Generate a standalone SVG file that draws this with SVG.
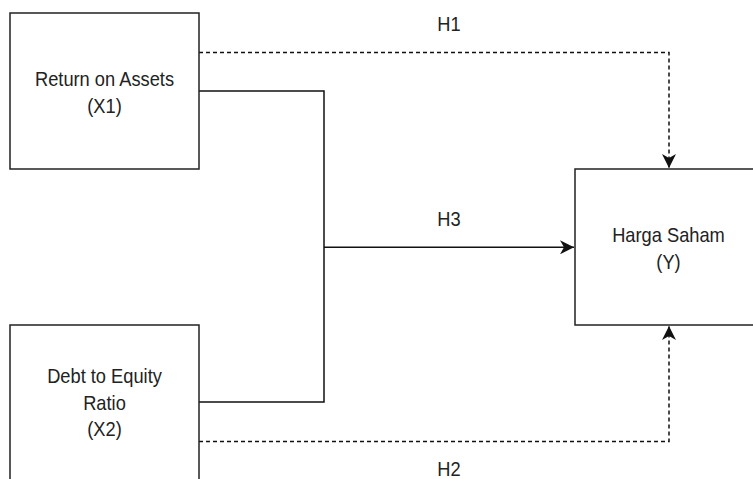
<svg xmlns="http://www.w3.org/2000/svg" width="753" height="479" viewBox="0 0 753 479">
<style>
.box{fill:#fff;stroke:#222;stroke-width:1.5}
.ln{fill:none;stroke:#111;stroke-width:1.5}
.dash{stroke-dasharray:4 3}
.t{font-family:"Liberation Sans",Arial,sans-serif;font-size:21px;fill:#222;text-anchor:middle}
</style>
<defs>
<marker id="arr" viewBox="-14 -7 15 14" refX="0" refY="0" markerWidth="15" markerHeight="14" markerUnits="userSpaceOnUse" orient="auto">
<path d="M0,0 L-14,-7 L-10,0 L-14,7 Z" fill="#111"/>
</marker>
</defs>
<rect width="753" height="479" fill="#fff"/>
<g id="connectors">
<path class="ln dash" d="M199,52.5 H669 V168" marker-end="url(#arr)"/>
<path class="ln dash" d="M199,441.5 H669 V326" marker-end="url(#arr)"/>
<path class="ln" d="M199,91 H324 V402 H199"/>
<path class="ln" d="M324,247.3 H574" marker-end="url(#arr)"/>
<text class="t" transform="translate(449,31) scale(0.87,1)">H1</text>
<text class="t" transform="translate(449,226) scale(0.87,1)">H3</text>
<text class="t" transform="translate(449,476) scale(0.87,1)">H2</text>
</g>
<g id="x1">
<rect class="box" x="10" y="13" width="189" height="156"/>
<text class="t" transform="translate(104.5,86) scale(0.87,1)">Return on Assets</text>
<text class="t" transform="translate(104.5,113) scale(0.87,1)">(X1)</text>
</g>
<g id="x2">
<rect class="box" x="10" y="325" width="189" height="156"/>
<text class="t" transform="translate(104.5,383) scale(0.87,1)">Debt to Equity</text>
<text class="t" transform="translate(104.5,409.5) scale(0.87,1)">Ratio</text>
<text class="t" transform="translate(104.5,436) scale(0.87,1)">(X2)</text>
</g>
<g id="y">
<rect class="box" x="575" y="169" width="200" height="156"/>
<text class="t" transform="translate(668.5,242) scale(0.87,1)">Harga Saham</text>
<text class="t" transform="translate(668.5,269) scale(0.87,1)">(Y)</text>
</g>
</svg>
